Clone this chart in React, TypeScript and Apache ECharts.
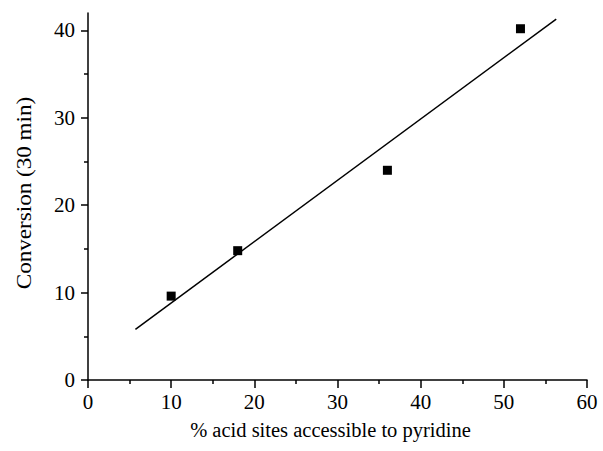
import React, { useEffect, useRef } from "react";
import * as echarts from "echarts";

// Measured points: conversion after 30 min vs. share of acid sites reachable by pyridine
const accessibleSites = [10, 18, 36, 52];
const conversion = [9.6, 14.8, 24.0, 40.2];

// End points of the linear fit drawn through the data
const fitX = [5.7, 56.3];
const fitY = [5.8, 41.3];

const xTicks = [0, 10, 20, 30, 40, 50, 60];
const yMajorTicks = [0, 10, 20, 30, 40];
const yMinorTicks = [5, 15, 25, 35];

const yTitle = "Conversion (30 min)";
const xTitle = "% acid sites accessible to pyridine";

const FONT = "Liberation Serif";

export default function App() {
  const ref = useRef<HTMLDivElement>(null);

  useEffect(() => {
    if (!ref.current) return;
    const chart = echarts.init(ref.current, null, { renderer: "svg" });

    const axisLine = { show: true, lineStyle: { color: "#000", width: 1.5 } };
    const tickFont = { fontFamily: FONT, fontSize: 21, color: "#000" };

    chart.setOption({
      animation: false,
      backgroundColor: "#fff",
      textStyle: { fontFamily: FONT, color: "#000" },
      grid: { left: 88, right: 16, top: 13, bottom: 71, containLabel: false },
      graphic: [
        {
          type: "text",
          x: 24,
          y: 193,
          rotation: Math.PI / 2,
          scaleX: 1.1,
          style: {
            text: yTitle,
            fontFamily: FONT,
            fontSize: 21,
            fill: "#000",
            align: "center",
            verticalAlign: "middle",
          },
        },
      ],
      xAxis: {
        type: "value",
        min: xTicks[0],
        max: xTicks[xTicks.length - 1],
        interval: 10,
        name: xTitle,
        nameLocation: "middle",
        nameGap: 39,
        nameTextStyle: {
          fontFamily: FONT,
          fontSize: 20.5,
          color: "#000",
          padding: [0, 14, 0, 0],
        },
        axisLine,
        axisTick: { show: true, inside: false, length: 8, lineStyle: { color: "#000", width: 1.5 } },
        minorTick: { show: true, splitNumber: 2, length: 4, lineStyle: { color: "#000", width: 1.5 } },
        axisLabel: { ...tickFont, margin: 11 },
        splitLine: { show: false },
        minorSplitLine: { show: false },
      },
      yAxis: [
        {
          type: "value",
          min: 0,
          max: 42,
          axisLine,
          axisTick: {
            show: true,
            inside: false,
            length: 7,
            customValues: yMajorTicks,
            lineStyle: { color: "#000", width: 1.5 },
          },
          axisLabel: { ...tickFont, margin: 13, customValues: yMajorTicks },
          splitLine: { show: false },
        },
        {
          type: "value",
          min: 0,
          max: 42,
          position: "left",
          axisLine: { show: false },
          axisTick: {
            show: true,
            inside: false,
            length: 4,
            customValues: yMinorTicks,
            lineStyle: { color: "#000", width: 1.5 },
          },
          axisLabel: { show: false },
          splitLine: { show: false },
        },
      ],
      series: [
        {
          type: "line",
          data: fitX.map((x, i) => [x, fitY[i]]),
          showSymbol: false,
          lineStyle: { color: "#000", width: 1.5 },
          silent: true,
        },
        {
          type: "scatter",
          data: accessibleSites.map((x, i) => [x, conversion[i]]),
          symbol: "rect",
          symbolSize: 9,
          itemStyle: { color: "#000", opacity: 1 },
        },
      ],
    });

    return () => chart.dispose();
  }, []);

  return <div ref={ref} style={{ width: 603, height: 451, position: "absolute", left: 0, top: 0 }} />;
}
